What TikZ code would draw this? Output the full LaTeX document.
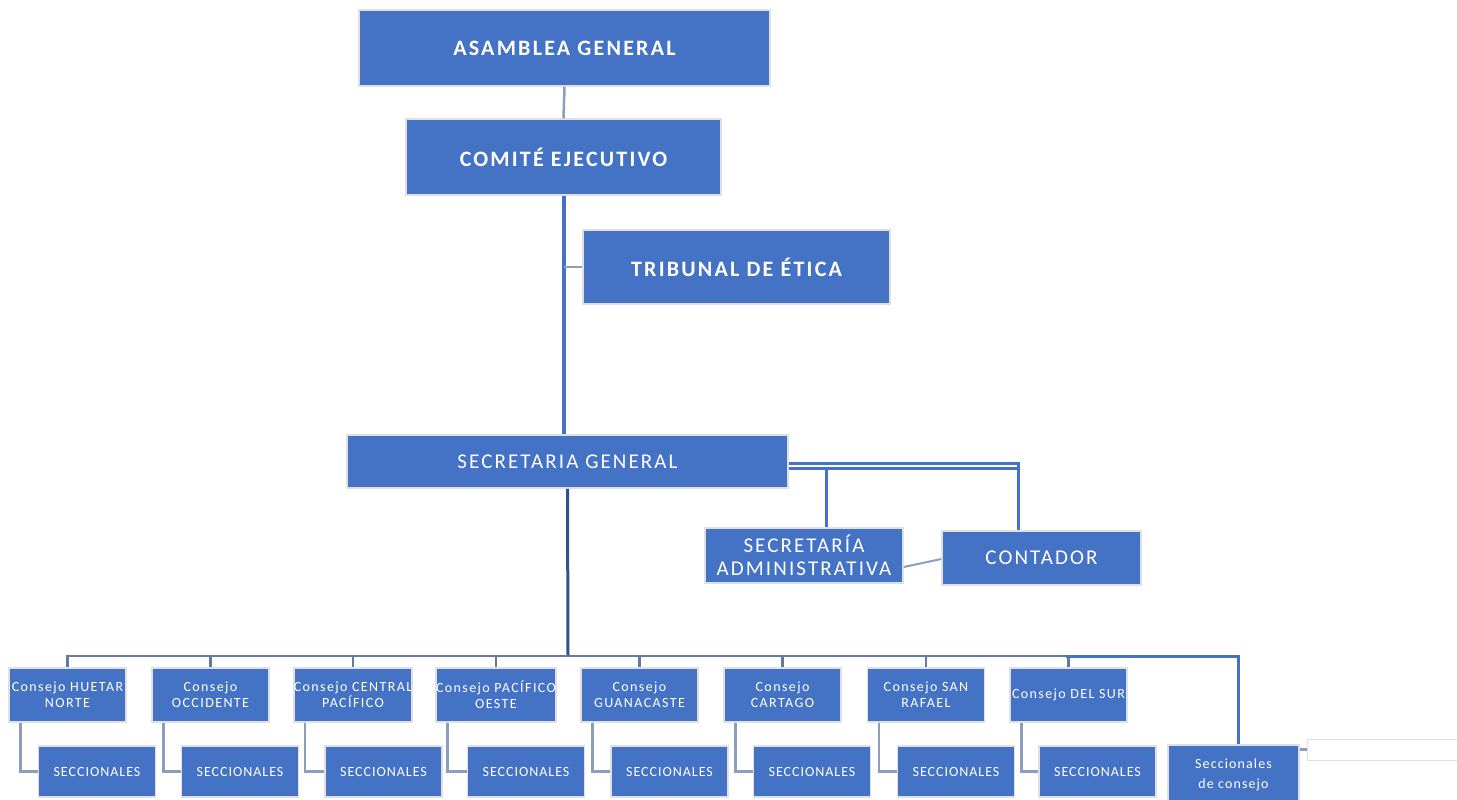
\documentclass[tikz,border=0pt]{standalone}
\usepackage{fontspec}
\setmainfont{Carlito}
\definecolor{ofblue}{HTML}{4472C4}
\definecolor{darkln}{HTML}{2F528F}
\definecolor{busln}{HTML}{6479A3}
\definecolor{thinln}{HTML}{8C9DBE}
\begin{document}
\begin{tikzpicture}[x=1pt,y=-1pt,
  box/.style={draw=black!12, line width=1.5pt, fill=ofblue, text=white, inner sep=0pt, align=center},
  bigbox/.style={box, font=\fontsize{22}{26}\selectfont\bfseries\addfontfeatures{LetterSpace=10}},
  midbox/.style={box, font=\fontsize{21}{23}\selectfont\addfontfeatures{LetterSpace=10}},
  cbox/.style={box, minimum width=117pt, minimum height=54pt, font=\fontsize{14}{16}\selectfont\addfontfeatures{LetterSpace=10}},
  sbox/.style={box, minimum width=117pt, minimum height=51pt, font=\fontsize{14}{16}\selectfont\addfontfeatures{LetterSpace=7}},
  thickln/.style={ofblue, line width=4pt},
  greyln/.style={thinln, line width=2.5pt},
  busline/.style={busln, line width=2.5pt},
  subln/.style={thinln, line width=2.5pt}]
\useasboundingbox (0,0) rectangle (1457,800);

% top levels
\node[bigbox, minimum width=411pt, minimum height=76pt] (asam) at (564.5,48) {ASAMBLEA GENERAL};
\node[bigbox, minimum width=315pt, minimum height=76pt] (comite) at (563.5,157) {COMITÉ EJECUTIVO};
\node[bigbox, minimum width=307pt, minimum height=74pt] (trib) at (736.5,267) {TRIBUNAL DE ÉTICA};
\node[midbox, minimum width=441pt, minimum height=53pt] (sg) at (567.5,461.5) {SECRETARIA GENERAL};
\node[midbox, minimum width=198pt, minimum height=55pt] (sa) at (804,555.5) {SECRETARÍA\\ADMINISTRATIVA};
\node[midbox, minimum width=199pt, minimum height=54pt] (cont) at (1041.5,558) {CONTADOR};

% consejos
\node[cbox] (c1) at (67.5,695) {Consejo  HUETAR\\NORTE};
\node[cbox] (c2) at (210.5,695) {Consejo\\OCCIDENTE};
\node[cbox] (c3) at (353,695) {Consejo CENTRAL\\PACÍFICO};
\node[cbox] (c4) at (496,695) {Consejo PACÍFICO\\OESTE};
\node[cbox] (c5) at (639.5,695) {Consejo\\GUANACASTE};
\node[cbox] (c6) at (782.5,695) {Consejo\\CARTAGO};
\node[cbox] (c7) at (926,695) {Consejo SAN\\RAFAEL};
\node[cbox] (c8) at (1068.5,695) {Consejo DEL SUR};

% seccionales
\node[sbox] (s1) at (97,771.5) {SECCIONALES};
\node[sbox] (s2) at (240,771.5) {SECCIONALES};
\node[sbox] (s3) at (383.5,771.5) {SECCIONALES};
\node[sbox] (s4) at (526,771.5) {SECCIONALES};
\node[sbox] (s5) at (669.5,771.5) {SECCIONALES};
\node[sbox] (s6) at (812,771.5) {SECCIONALES};
\node[sbox] (s7) at (956,771.5) {SECCIONALES};
\node[sbox] (s8) at (1097.5,771.5) {SECCIONALES};

\node[box, minimum width=131pt, minimum height=60pt, font=\fontsize{14}{20}\selectfont\addfontfeatures{LetterSpace=8}] (sdc) at (1233.5,775) {Seccionales\\de consejo};
\node[draw=black!12, line width=1pt, fill=white, minimum width=155pt, minimum height=21pt, inner sep=0pt] (blank) at (1384.5,749.5) {};

% connectors
\draw[greyln] (asam.south) -- (comite.north);
\draw[thickln] (comite.south) -- (comite.south |- sg.north);
\draw[greyln] (trib.west) -- (trib.west -| comite.south);
\draw[ofblue, line width=3pt] ([yshift=-1.5pt]sg.east) -| ([xshift=-23.5pt]cont.north);
\draw[ofblue, line width=3pt] ([yshift=-6.5pt]sg.east) -| ([xshift=22pt]sa.north);
\draw[ofblue, line width=3pt] ([yshift=-6.5pt]sg.east) -| ([xshift=-23.5pt]cont.north);
\draw[thinln, line width=2pt] ([yshift=-11.5pt]sa.east) -- ([yshift=-1pt]cont.west);

\coordinate (bus) at (568,656);
\draw[darkln, line width=3pt] (sg.south) -- (bus);
\draw[busline] (c1.north) -- (c1.north |- bus) -- (c8.north |- bus) -- (c8.north);
\foreach \i in {2,...,7} {\draw[busline] (c\i.north) -- (c\i.north |- bus);}

\foreach \i in {1,...,8} {\draw[subln] ([xshift=12pt]c\i.south west) |- (s\i.west);}

\draw[ofblue, line width=3pt] ([xshift=-3pt]c8.north |- bus) -| ([xshift=4.5pt]sdc.north);
\draw[subln] (sdc.east |- blank.west) -- (blank.west);
\end{tikzpicture}
\end{document}
